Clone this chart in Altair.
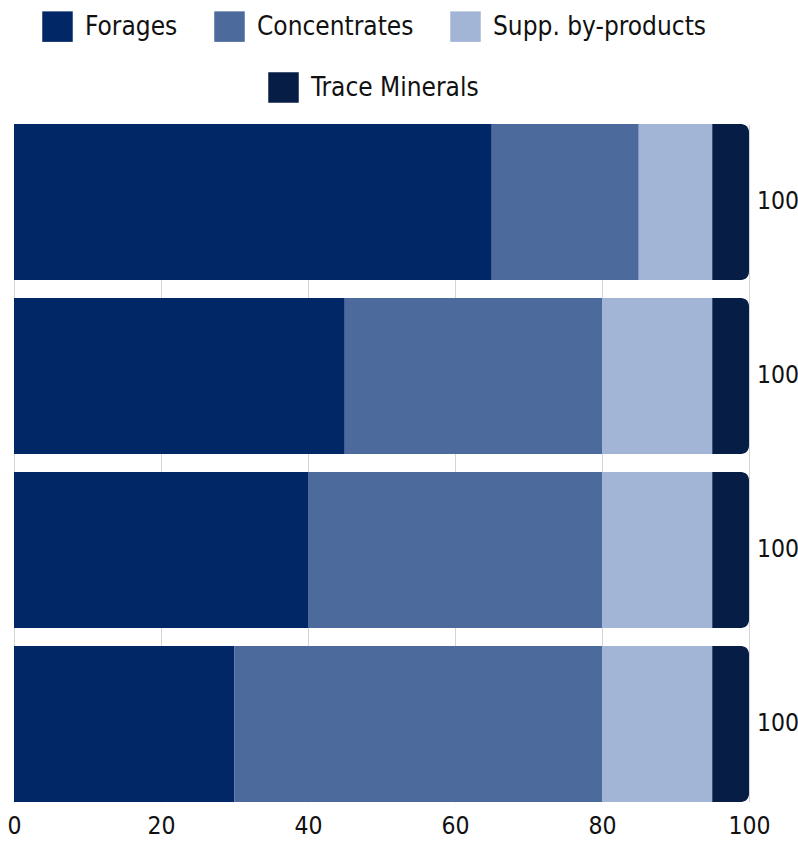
import altair as alt
import pandas as pd

rations = ["Ration 1", "Ration 2", "Ration 3", "Ration 4"]
components = ["Forages", "Concentrates", "Supp. by-products", "Trace Minerals"]
forages = [65, 45, 40, 30]
concentrates = [20, 35, 40, 50]
supp_byproducts = [10, 15, 15, 15]
trace_minerals = [5, 5, 5, 5]
colors = ["#012766", "#4c6a9c", "#a2b5d7", "#061d45"]

series = [forages, concentrates, supp_byproducts, trace_minerals]
rows = []
for ci, (comp, vals) in enumerate(zip(components, series)):
    for r, v in zip(rations, vals):
        rows.append({"ration": r, "component": comp, "order": ci, "value": v})
df = pd.DataFrame(rows)

FONT = "'DejaVu Sans Condensed', Roboto, sans-serif"

y_enc = alt.Y("ration:N", sort=rations, axis=None,
              scale=alt.Scale(paddingInner=0.1034, paddingOuter=0))

base = alt.Chart(df).transform_stack(
    stack="value", groupby=["ration"], as_=["start", "end"],
    sort=[alt.SortField("order", order="ascending")]
)

x_enc = alt.X("start:Q", scale=alt.Scale(domain=[0, 100], nice=False),
              axis=alt.Axis(values=[0, 20, 40, 60, 80, 100], title=None,
                            grid=True, gridColor="#d4d4d4", gridWidth=1,
                            ticks=False, domain=False, labelFontSize=24.5,
                            labelFont=FONT, labelColor="#111111",
                            labelPadding=12, labelFlush=False))

legend_common = dict(title=None, symbolType="square", symbolSize=930,
                     symbolStrokeWidth=0, labelFontSize=26, labelFont=FONT,
                     labelColor="#111111", labelOffset=12, labelLimit=300)

main = base.transform_filter(
    alt.FieldOneOfPredicate(field="component", oneOf=components[:3])
).mark_bar(cornerRadius=0).encode(
    x=x_enc,
    x2="end:Q",
    y=y_enc,
    color=alt.Color("component:N",
                    scale=alt.Scale(domain=components[:3], range=colors[:3]),
                    legend=alt.Legend(orient="none", legendX=28, legendY=-113,
                                      direction="horizontal", columns=3,
                                      columnPadding=36, **legend_common)),
)

trace = base.transform_filter(
    alt.FieldEqualPredicate(field="component", equal=components[3])
).mark_bar(cornerRadiusTopRight=8, cornerRadiusBottomRight=8).encode(
    x=alt.X("start:Q"),
    x2="end:Q",
    y=y_enc,
    color=alt.Color("component:N",
                    scale=alt.Scale(domain=components[3:], range=colors[3:]),
                    legend=alt.Legend(orient="none", legendX=254, legendY=-52,
                                      **legend_common)),
)

totals = alt.Chart(df).transform_aggregate(
    total="sum(value)", groupby=["ration"]
).mark_text(align="left", baseline="middle", dx=8, fontSize=24.5,
            font=FONT, color="#111111").encode(
    x=alt.X("total:Q"),
    y=y_enc,
    text=alt.Text("total:Q"),
)

chart = alt.layer(main, trace, totals).resolve_scale(
    color="independent"
).properties(
    width=735, height=678,
    autosize=alt.AutoSizeParams(type="none"),
    padding={"left": 14, "top": 124, "right": 49, "bottom": 39},
).configure_view(stroke=None)

chart.save("out.html", embed_options={"renderer": "svg", "actions": False})
